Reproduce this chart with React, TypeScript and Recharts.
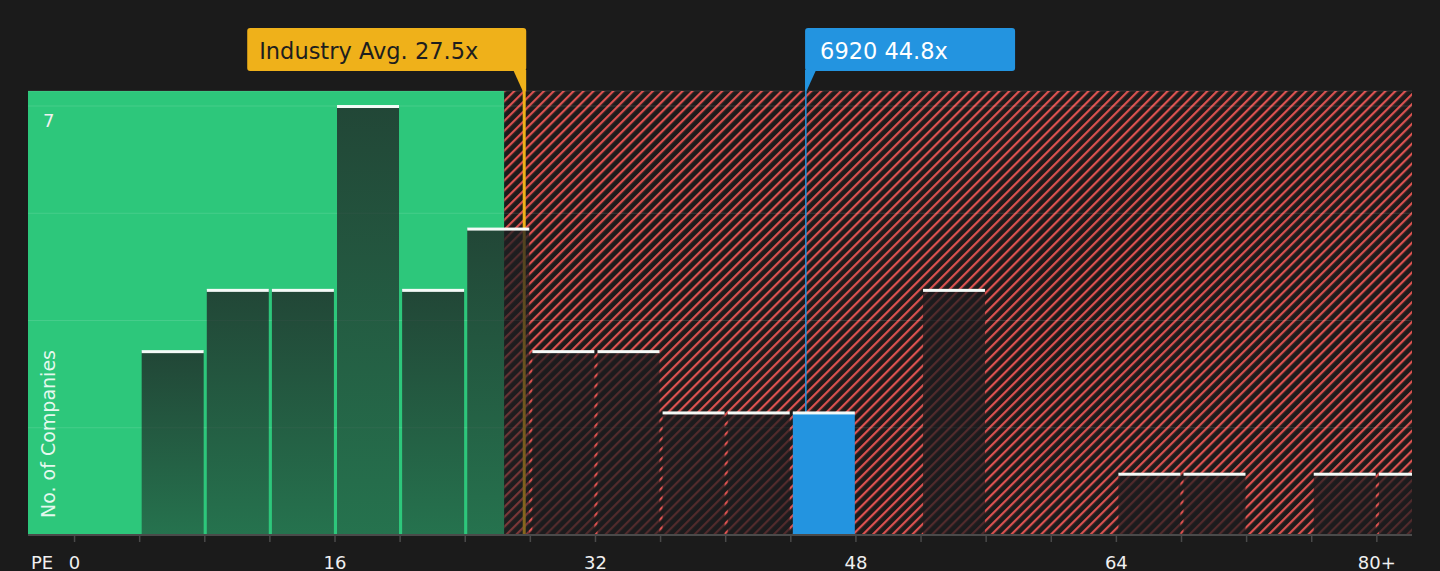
import React from "react";
import { Bar, CartesianGrid, ComposedChart, Label, ReferenceArea, ReferenceLine, XAxis, YAxis } from "recharts";

// PE histogram, bins of 4
const binStarts = [0, 4, 8, 12, 16, 20, 24, 28, 32, 36, 40, 44, 48, 52, 56, 60, 64, 68, 72, 76, 80];
const binCounts = [0, 3, 4, 4, 7, 4, 5, 3, 3, 2, 2, 2, 0, 4, 0, 0, 1, 1, 0, 1, 1];
const BIN = 4;

const xTicks = [0, 4, 8, 12, 16, 20, 24, 28, 32, 36, 40, 44, 48, 52, 56, 60, 64, 68, 72, 76, 80];
const xLabelValues = [0, 16, 32, 48, 64, 80];
const xLabelTexts = ["0", "16", "32", "48", "64", "80+"];
const yTicks = [0, 1.75, 3.5, 5.25, 7];
const yLabelValues = [7];

const industryAvg = 27.5;
const companyName = "6920";
const companyPE = 44.8;
const fairLimit = 26.4;

const BG = "#1b1b1b";
const GREEN = "#2dc77b";
const HATCH = "#dc5250";
const YELLOW = "#efb11a";
const BLUE = "#2394e0";
const AXIS = "#4a4a4a";
const W = 1440;
const H = 571;
const PLOT_LEFT = 28;
const PLOT_TOP = 91;
const LINE_NUDGE = 2; // markers sit a touch right of the bin scale
const FONT = "'DejaVu Sans', sans-serif";

const data = binStarts.map((s, i) => ({
  mid: s + BIN / 2,
  count: binCounts[i],
  highlight: companyPE >= s && companyPE < s + BIN,
  inGreen: s + BIN / 2 < fairLimit,
}));

function BinBar(props: any) {
  const { x, y, width, height, payload } = props;
  if (!height || height <= 0) return null;
  const fill = payload.highlight ? BLUE : payload.inGreen ? "url(#greenBarFade)" : "rgba(28,28,30,0.72)";
  return (
    <g>
      <rect x={x} y={y} width={width} height={height} fill={fill} />
      <rect x={x} y={y - 1} width={width} height={3} fill="#f4faf7" />
    </g>
  );
}

function XTick(props: any) {
  const { x, y, payload } = props;
  const i = xLabelValues.indexOf(payload.value);
  if (i < 0) return null;
  return (
    <text x={x} y={y} dy="0.71em" textAnchor="middle" fill="#f0f0f0" fontSize={18} fontFamily={FONT}>
      {xLabelTexts[i]}
    </text>
  );
}

function YTick(props: any) {
  const { y, payload } = props;
  if (!yLabelValues.includes(payload.value)) return null;
  return (
    <text x={PLOT_LEFT + 15} y={y + 21} fill="#f0f0f0" fontSize={18} fontFamily={FONT}>
      {payload.value}
    </text>
  );
}

function MarkerLine(props: any) {
  const { x1, y1, y2, stroke, strokeWidth } = props;
  return <line x1={x1 + LINE_NUDGE} x2={x1 + LINE_NUDGE} y1={y1} y2={y2} stroke={stroke} strokeWidth={strokeWidth} />;
}

function AvgBadge(props: any) {
  const vb = props.viewBox || {};
  const lx = vb.x + LINE_NUDGE;
  const top = vb.y ?? PLOT_TOP;
  const right = lx + 2;
  const left = right - 279;
  return (
    <g>
      <line x1={lx} x2={lx} y1={70} y2={top} stroke={YELLOW} strokeWidth={3} />
      <rect x={left} y={28} width={279} height={43} rx={3} fill={YELLOW} />
      <polygon points={`${right - 13},70 ${right},70 ${right},${top} ${lx - 1.5},${top}`} fill={YELLOW} />
      <text x={left + 12} y={59} fill="#1e1e1e" fontSize={22.5} fontFamily={FONT}>
        {`Industry Avg. ${industryAvg}x`}
      </text>
    </g>
  );
}

function CompanyBadge(props: any) {
  const vb = props.viewBox || {};
  const lx = vb.x + LINE_NUDGE;
  const top = vb.y ?? PLOT_TOP;
  const left = lx - 0.75;
  return (
    <g>
      <line x1={lx} x2={lx} y1={70} y2={top} stroke={BLUE} strokeWidth={1.5} />
      <rect x={left} y={28} width={210} height={43} rx={3} fill={BLUE} />
      <polygon points={`${left},70 ${left + 11},70 ${left + 1.5},${top} ${left},${top}`} fill={BLUE} />
      <text x={left + 15} y={59} fill="#ffffff" fontSize={22.5} fontFamily={FONT}>
        {`${companyName} ${companyPE}x`}
      </text>
    </g>
  );
}

export default function App() {
  return (
    <div style={{ position: "fixed", left: 0, top: 0, width: W, height: H, background: BG, fontFamily: FONT }}>
      <svg width={0} height={0} style={{ position: "absolute" }}>
        <defs>
          <pattern id="redHatch" patternUnits="userSpaceOnUse" width={7} height={7} patternTransform="rotate(45)">
            <rect width={7} height={7} fill="#1d1b1b" />
            <line x1={1.1} y1={0} x2={1.1} y2={7} stroke={HATCH} strokeWidth={2.2} />
          </pattern>
          <linearGradient id="greenBarFade" x1="0" y1="0" x2="0" y2="1">
            <stop offset="0%" stopColor="#1e1e21" stopOpacity={0.76} />
            <stop offset="100%" stopColor="#1e1e21" stopOpacity={0.5} />
          </linearGradient>
        </defs>
      </svg>
      <ComposedChart width={W} height={H} data={data} margin={{ top: PLOT_TOP, right: 28, bottom: 0, left: PLOT_LEFT - 1 }}>
        <ReferenceArea x1={-2.86} x2={fairLimit} fill={GREEN} fillOpacity={1} stroke="none" zIndex={-200} />
        <ReferenceArea x1={fairLimit} x2={82.16} fill="url(#redHatch)" fillOpacity={1} stroke="none" zIndex={-200} />
        <CartesianGrid vertical={false} stroke="rgba(255,255,255,0.12)" zIndex={-150} />
        <XAxis
          dataKey="mid"
          type="number"
          domain={[-2.86, 82.16]}
          allowDataOverflow
          ticks={xTicks}
          interval={0}
          height={36}
          axisLine={{ stroke: AXIS, strokeWidth: 2 }}
          tickLine={{ stroke: AXIS, strokeWidth: 1.5 }}
          tickSize={7}
          tickMargin={14}
          tick={<XTick />}
        >
          <Label
            content={() => (
              <text x={31} y={569} fill="#f0f0f0" fontSize={18} fontFamily={FONT}>
                PE
              </text>
            )}
          />
        </XAxis>
        <YAxis
          type="number"
          domain={[0, 7.245]}
          ticks={yTicks}
          width={1}
          axisLine={false}
          tickLine={false}
          tick={<YTick />}
        >
          <Label
            content={() => (
              <text
                x={55}
                y={434}
                transform="rotate(-90 55 434)"
                textAnchor="middle"
                fill="rgba(255,255,255,0.88)"
                fontSize={19}
                fontFamily={FONT}
              >
                No. of Companies
              </text>
            )}
          />
        </YAxis>
        <ReferenceLine
          x={industryAvg}
          stroke={YELLOW}
          strokeWidth={3}
          shape={<MarkerLine />}
          label={<AvgBadge />}
          zIndex={-100}
        />
        <ReferenceLine
          x={companyPE}
          stroke={BLUE}
          strokeWidth={1.5}
          shape={<MarkerLine />}
          label={<CompanyBadge />}
          zIndex={-100}
        />
        <Bar dataKey="count" barSize={62} shape={<BinBar />} isAnimationActive={false} />
      </ComposedChart>
    </div>
  );
}
